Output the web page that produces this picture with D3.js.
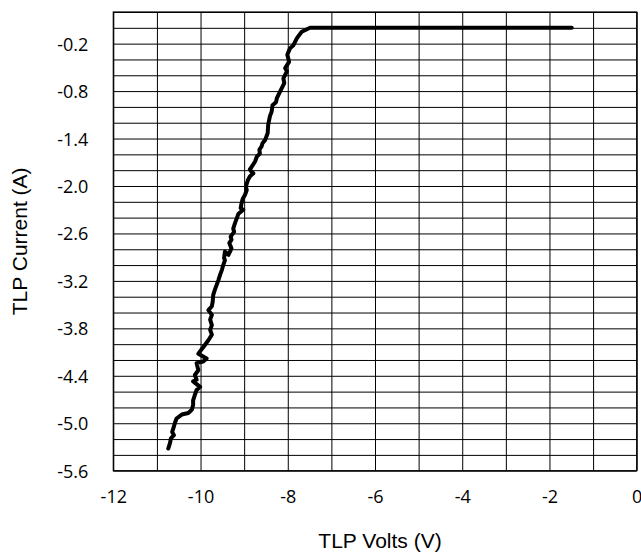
<!DOCTYPE html>
<html>
<head>
<meta charset="utf-8">
<script src="https://cdn.jsdelivr.net/npm/d3@7"></script>
<style>
  body { margin: 0; background: #fff; }
  .tick text { font-family: "Open Sans", sans-serif; font-size: 18px; fill: #000; }
  .title { font-family: "Liberation Sans", Arial, sans-serif; font-size: 21px; fill: #000; }
</style>
</head>
<body>
<div id="chart"></div>
<script>
// TLP curve (volts, amps), from the flat end down to the last pulse
const volts = [-1.49, -7.49, -7.68, -7.79, -7.87, -7.95, -8.01, -7.97, -8.06, -8.02,
  -8.10, -8.08, -8.18, -8.25, -8.27, -8.35, -8.37, -8.41, -8.45, -8.46,
  -8.52, -8.58, -8.60, -8.65, -8.64, -8.71, -8.75, -8.83, -8.87, -8.83,
  -8.79, -8.87, -8.91, -8.94, -8.96, -8.94, -8.98, -9.03, -9.06, -9.08,
  -9.02, -9.13, -9.17, -9.21, -9.25, -9.23, -9.31, -9.29, -9.34, -9.29,
  -9.36, -9.44, -9.46, -9.44, -9.48, -9.51, -9.55, -9.59, -9.63, -9.67,
  -9.71, -9.72, -9.74, -9.82, -9.74, -9.78, -9.74, -9.78, -9.74, -9.82,
  -9.90, -10.05, -9.86, -9.94, -10.09, -10.05, -10.13, -10.09, -10.17, -10.01,
  -10.09, -10.13, -10.17, -10.17, -10.20, -10.28, -10.43, -10.55, -10.59, -10.62,
  -10.65, -10.61, -10.68, -10.70, -10.74];
const current = [0.0, 0.0, -0.05, -0.13, -0.22, -0.26, -0.34, -0.43, -0.51, -0.55,
  -0.64, -0.70, -0.81, -0.89, -0.94, -0.98, -1.06, -1.12, -1.23, -1.33,
  -1.42, -1.46, -1.50, -1.54, -1.59, -1.63, -1.69, -1.76, -1.79, -1.82,
  -1.84, -1.88, -1.92, -1.97, -2.01, -2.05, -2.11, -2.16, -2.22, -2.28,
  -2.30, -2.35, -2.41, -2.47, -2.54, -2.58, -2.64, -2.68, -2.72, -2.79,
  -2.87, -2.83, -2.91, -2.94, -3.00, -3.06, -3.12, -3.19, -3.25, -3.31,
  -3.38, -3.46, -3.52, -3.57, -3.63, -3.69, -3.76, -3.82, -3.88, -3.95,
  -4.01, -4.12, -4.18, -4.22, -4.24, -4.33, -4.39, -4.45, -4.47, -4.54,
  -4.58, -4.64, -4.71, -4.77, -4.83, -4.87, -4.89, -4.94, -5.00, -5.06,
  -5.11, -5.15, -5.19, -5.25, -5.32];

const xTickLabels = [-12, -10, -8, -6, -4, -2, 0];
const xGrid = d3.range(-12, 0.001, 1);
const yTickLabels = [-5.6, -5.0, -4.4, -3.8, -3.2, -2.6, -2.0, -1.4, -0.8, -0.2];
const yGrid = d3.range(0, 30).map(i => +(-5.6 + i * 0.2).toFixed(1));

const width = 641, height = 556;
const margin = { top: 12, right: 4.3, bottom: 85.3, left: 113.3 };
const innerW = width - margin.left - margin.right;
const innerH = height - margin.top - margin.bottom;

const svg = d3.select('#chart').append('svg')
    .attr('width', width)
    .attr('height', height);

const g = svg.append('g')
    .attr('transform', `translate(${margin.left},${margin.top})`);

const x = d3.scaleLinear().domain([-12, 0]).range([0, innerW]);
const y = d3.scaleLinear().domain([-5.6, 0.2]).range([innerH, 0]);

// grid lines
g.append('g')
    .attr('class', 'grid')
    .call(d3.axisLeft(y).tickValues(yGrid).tickSize(-innerW).tickFormat(''))
    .call(s => s.select('.domain').remove())
    .selectAll('line').attr('stroke', '#000').attr('stroke-width', 1);

g.append('g')
    .attr('class', 'grid')
    .attr('transform', `translate(0,${innerH})`)
    .call(d3.axisBottom(x).tickValues(xGrid).tickSize(-innerH).tickFormat(''))
    .call(s => s.select('.domain').remove())
    .selectAll('line').attr('stroke', '#000').attr('stroke-width', 1);

g.append('rect')
    .attr('width', innerW)
    .attr('height', innerH)
    .attr('fill', 'none')
    .attr('stroke', '#000')
    .attr('stroke-width', 1.2);

// tick labels (plain hyphen, not the unicode minus)
g.append('g')
    .attr('transform', `translate(0,${innerH})`)
    .call(d3.axisBottom(x).tickValues(xTickLabels).tickSize(0).tickPadding(20).tickFormat(d => String(d)))
    .call(s => s.select('.domain').remove());

g.append('g')
    .call(d3.axisLeft(y).tickValues(yTickLabels).tickSize(0).tickPadding(25).tickFormat(d => d.toFixed(1)))
    .call(s => s.select('.domain').remove())
    .selectAll('text').attr('dy', '0.36em');

// curve
const pts = volts.map((v, i) => [v, current[i]]);
g.append('path')
    .datum(pts)
    .attr('fill', 'none')
    .attr('stroke', '#000')
    .attr('stroke-width', 4)
    .attr('stroke-linejoin', 'round')
    .attr('stroke-linecap', 'round')
    .attr('d', d3.line().x(d => x(d[0])).y(d => y(d[1])));

// axis titles
svg.append('text')
    .attr('class', 'title')
    .attr('x', margin.left + innerW / 2 + 5)
    .attr('y', 548)
    .attr('text-anchor', 'middle')
    .text('TLP Volts (V)');

svg.append('text')
    .attr('class', 'title')
    .attr('transform', `translate(27,${margin.top + innerH / 2}) rotate(-90)`)
    .attr('text-anchor', 'middle')
    .text('TLP Current (A)');
</script>
</body>
</html>
